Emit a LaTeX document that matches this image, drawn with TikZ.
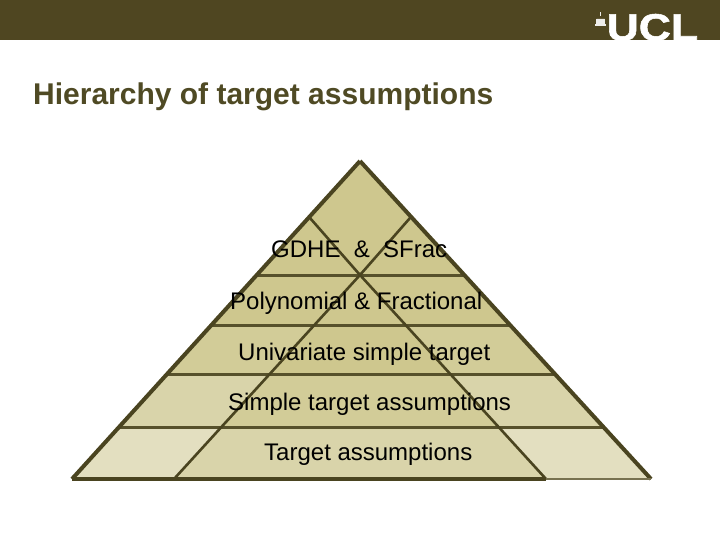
\documentclass[tikz,border=0pt]{standalone}
\usepackage{graphicx}
\usepackage{fontspec}
\setmainfont{Liberation Sans}
\newfontfamily\logofont[UprightFont=* Bold,FakeBold=1.4]{Liberation Sans}
\definecolor{bar}{HTML}{4F4621}
\definecolor{edge}{HTML}{4A4420}
\definecolor{titlec}{HTML}{4F4A24}
\definecolor{cA}{HTML}{CEC78E}
\definecolor{cB}{HTML}{D2CC98}
\definecolor{cC}{HTML}{D9D4AA}
\definecolor{cD}{HTML}{E3DFC0}
\tikzset{
  x=1pt,y=-1pt,
  label/.style={anchor=base west,inner sep=0pt,font=\fontsize{24}{26}\selectfont,text=black},
  hline/.style={draw=edge!90!cA,line width=3pt},
  inner/.style={draw=edge,line width=2.6pt},
  outer/.style={draw=edge,line width=4pt,line join=miter}
}
\begin{document}
\begin{tikzpicture}
\useasboundingbox (0,0) rectangle (720,540);
\coordinate (apex) at (360,161);
\coordinate (bl) at (72,479);
\coordinate (br) at (651,479);
\coordinate (ia) at (360,275);
\coordinate (il) at (174,479);
\coordinate (ir) at (546,479);
\coordinate (tl) at (310,218);
\coordinate (tr) at (410,218);
% header
\fill[bar] (0,0) rectangle (720,40);
\node[anchor=base west,inner sep=0pt,text=white,font=\fontsize{38}{38}\selectfont\logofont] (logo) at (606.5,40.5) {\scalebox{1.17}[1]{UCL}};
% dome icon
\fill[white!90!bar] (595,24.5) rectangle (606,26.5);
\fill[white!90!bar] (596,19.5) rectangle (605,24);
\fill[white!90!bar] (596.5,19) arc (180:0:4 and 4) -- cycle;
\fill[white!90!bar] (600,12.5) rectangle (601.2,16);
\node[anchor=base west,inner sep=0pt,text=titlec,font=\fontsize{30}{32}\selectfont\bfseries] (title) at (33,104.5) {Hierarchy of target assumptions};
% bands
\begin{scope}
\clip (apex) -- (br) -- (bl) -- cycle;
\fill[cA] (60,161) rectangle (660,325);
\fill[cB] (60,325) rectangle (660,374);
\fill[cC] (60,374) rectangle (660,427);
\fill[cD] (60,427) rectangle (660,480);
% inner triangle shades
\fill[cA] (ia) -- (316,325) -- (404,325) -- cycle;
\fill[cA] (316,325) -- (404,325) -- (451,374) -- (271,374) -- cycle;
\fill[cB] (271,374) -- (451,374) -- (498,427) -- (221,427) -- cycle;
\fill[cC] (221,427) -- (498,427) -- (ir) -- (il) -- cycle;
% lines
\draw[hline] (60,275) -- (660,275);
\draw[hline] (60,325) -- (660,325);
\draw[hline] (60,374) -- (660,374);
\draw[hline] (60,427) -- (660,427);
\draw[inner] (tl) -- (ia) -- (tr);
\draw[inner] (ia) -- (il);
\draw[inner] (ia) -- (ir);
\end{scope}
\draw[outer] (apex) -- (bl);
\draw[outer] (apex) -- (br);
\draw[outer] (bl) -- (ir);
\draw[draw=edge!70!cD,line width=1.5pt] (ir) -- (br);
% labels
\node[label] (l1) at (271,258) {GDHE\ \ \&\ \ SFrac};
\node[label] (l2) at (230,309) {Polynomial \& Fractional};
\node[label] (l3) at (238,360) {Univariate simple target};
\node[label] (l4) at (228,410) {Simple target assumptions};
\node[label] (l5) at (264,460) {Target assumptions};
\end{tikzpicture}
\end{document}
